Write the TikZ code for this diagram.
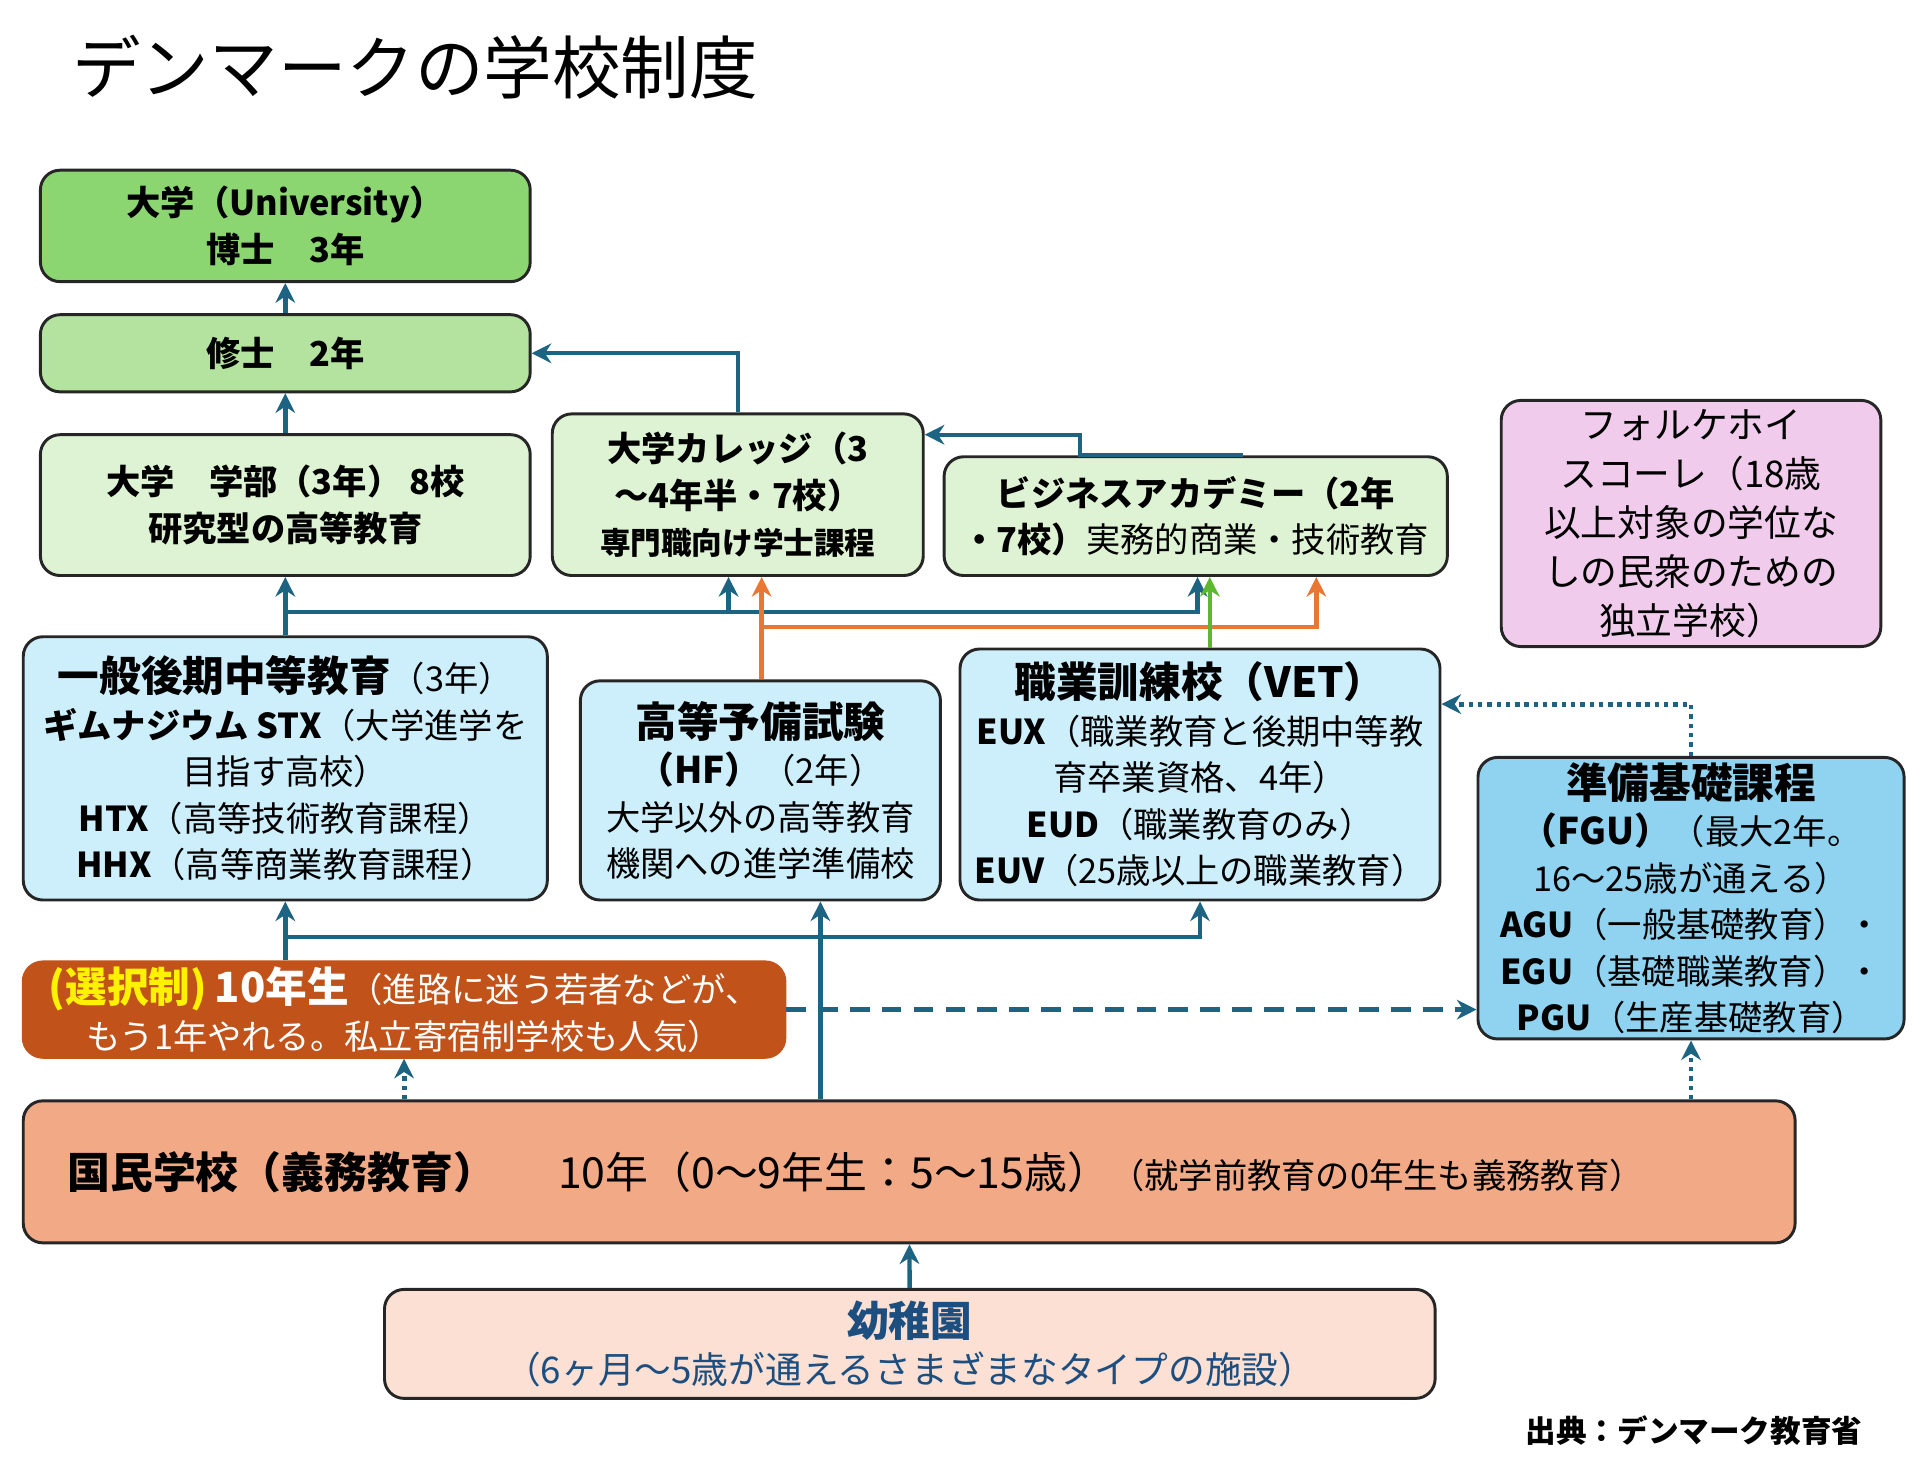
\documentclass[tikz,border=0pt]{standalone}
\usepackage{fontspec}
\setmainfont{Noto Sans CJK JP}
\usetikzlibrary{arrows.meta}
\definecolor{linkblue}{HTML}{1C6482}
\definecolor{linkorange}{HTML}{E87733}
\definecolor{linkgreen}{HTML}{5CB82E}
\definecolor{phdgreen}{HTML}{8CD672}
\definecolor{mastgreen}{HTML}{B4E3A0}
\definecolor{palegreen}{HTML}{DDF3D3}
\definecolor{folkpink}{HTML}{F0CBEC}
\definecolor{paleblue}{HTML}{CDEEFB}
\definecolor{fgublue}{HTML}{8FD3F0}
\definecolor{tenbrown}{HTML}{C0521A}
\definecolor{schoolsalmon}{HTML}{F2A986}
\definecolor{kinderpink}{HTML}{FBE0D3}
\definecolor{kindertext}{HTML}{1C4E80}
\tikzset{
  % box for one kind of school
  school/.style = {
    draw = black!85,
    line width = 1.2pt,
    rounded corners = 8pt,
    align = center,
    inner sep = 2pt,
    font = \fontsize{14}{19}\selectfont
  },
  % connector styles
  arr/.style = {
    draw = linkblue,
    line width = 1.8pt,
    -{Stealth[length=8pt,width=8pt]}
  },
  oarr/.style = {arr, draw = linkorange},
  garr/.style = {arr, draw = linkgreen},
  darr/.style = {arr, dotted, line width = 2pt},
  dasharr/.style = {arr, dashed, dash pattern = on 8pt off 5pt}
}
\begin{document}
\begin{tikzpicture}[x=0.5pt, y=-0.5pt]
  \useasboundingbox (0,0) rectangle (1568,1206);
  \node[anchor=west, font=\fontsize{28}{32}\selectfont] (title) at (52,55) {デンマークの学校制度};

  \node[school, fill=phdgreen, minimum width=200pt, minimum height=45.5pt] (phd) at (233,184.5)
    {\bfseries 大学（University）\\\bfseries 博士　3年};
  \node[school, fill=mastgreen, minimum width=200pt, minimum height=31.5pt] (mast) at (233,288.5)
    {\bfseries 修士　2年};
  \node[school, fill=palegreen, minimum width=200pt, minimum height=57.5pt] (bach) at (233,412.5)
    {\bfseries 大学　学部（3年） 8校\\\bfseries 研究型の高等教育};
  \node[school, fill=palegreen, minimum width=151.5pt, minimum height=66pt] (coll) at (602.5,404)
    {\bfseries 大学カレッジ（3\\\bfseries ～4年半・7校）\\{\fontsize{12.5}{18}\selectfont\bfseries 専門職向け学士課程}};
  \node[school, fill=palegreen, minimum width=205.5pt, minimum height=48.5pt] (biz) at (976.5,421.5)
    {\bfseries ビジネスアカデミー（2年\\\textbf{・7校）}実務的商業・技術教育};
  \node[school, fill=folkpink, minimum width=155pt, minimum height=100.5pt, font=\fontsize{15}{20}\selectfont] (folk) at (1381,427.5)
    {フォルケホイ\\スコーレ（18歳\\以上対象の学位な\\しの民衆のための\\独立学校）};

  \node[school, fill=paleblue, minimum width=214pt, minimum height=107.5pt] (gen) at (233,627.5)
    {{\fontsize{17}{20}\selectfont\bfseries 一般後期中等教育}（3年）\\\textbf{ギムナジウム STX}（大学進学を\\目指す高校）\\\textbf{HTX}（高等技術教育課程）\\\textbf{HHX}（高等商業教育課程）};
  \node[school, fill=paleblue, minimum width=147pt, minimum height=89.5pt] (hf) at (621,645.5)
    {{\fontsize{17}{20}\selectfont\bfseries 高等予備試験}\\{\fontsize{15}{20}\selectfont\bfseries （HF）}（2年）\\大学以外の高等教育\\機関への進学準備校};
  \node[school, fill=paleblue, minimum width=196pt, minimum height=102.5pt] (vet) at (980,632.5)
    {{\fontsize{17}{20}\selectfont\bfseries 職業訓練校（VET）}\\\textbf{EUX}（職業教育と後期中等教\\育卒業資格、4年）\\\textbf{EUD}（職業教育のみ）\\\textbf{EUV}（25歳以上の職業教育）};
  \node[school, fill=fgublue, minimum width=174pt, minimum height=111.5pt] (fgu) at (1381,733.5)
    {{\fontsize{17}{20}\selectfont\bfseries 準備基礎課程}\\{\fontsize{15}{20}\selectfont\bfseries （FGU）}（最大2年。\\16～25歳が通える）\\\textbf{AGU}（一般基礎教育）・\\\textbf{EGU}（基礎職業教育）・\\\textbf{PGU}（生産基礎教育）};

  \node[school, fill=tenbrown, draw=tenbrown, text=white, minimum width=311pt, minimum height=38.5pt] (ten) at (330,824.5)
    {{\fontsize{17}{20}\selectfont\bfseries\color{yellow}(選択制)} {\fontsize{17}{20}\selectfont\bfseries 10年生}（進路に迷う若者などが、\\もう1年やれる。私立寄宿制学校も人気）};
  \node[school, fill=schoolsalmon, minimum width=723.5pt, minimum height=58pt] (folke) at (742.5,957) {};
  \node[anchor=west, font=\fontsize{17.5}{20}\selectfont] (folketext) at (48,957)
    {\textbf{国民学校（義務教育）}\quad\ \ 10年（0～9年生：5～15歳）{\fontsize{14}{16}\selectfont（就学前教育の0年生も義務教育）}};
  \node[school, fill=kinderpink, text=kindertext, minimum width=429pt, minimum height=44.5pt] (kinder) at (743,1097.5)
    {{\fontsize{17}{20}\selectfont\bfseries 幼稚園}\\{\fontsize{15}{20}\selectfont（6ヶ月～5歳が通えるさまざまなタイプの施設）}};
  \node[anchor=east, font=\fontsize{12.5}{16}\selectfont\bfseries] (source) at (1528,1168) {出典：デンマーク教育省};

  % helper coordinates
  \coordinate (x595) at (595,0);
  \coordinate (x622) at (622,0);
  \coordinate (x978) at (978,0);
  \coordinate (x988) at (988,0);
  \coordinate (x1015) at (1015,0);
  \coordinate (x1075) at (1075,0);
  \coordinate (x670) at (670,0);
  \coordinate (bus) at (233,500);
  \coordinate (obus) at (622,512);
  \coordinate (lowbus) at (233,765);
  \coordinate (bizcorner) at (882,355);
  \coordinate (fgubend) at (1381,575);

  \draw[arr] (mast) -- (phd);
  \draw[arr] (bach) -- (mast);
  \draw[arr] (coll.north) |- (mast.east);
  \draw[arr] (biz.north -| x1015) -| (bizcorner) -- (coll.north east |- bizcorner);

  \draw[arr] (gen.north) -- (bach.south);
  \draw[arr] (bus) -| (coll.south -| x595);
  \draw[arr] (bus) -| (biz.south -| x978);
  \draw[oarr] (hf.north -| x622) -- (coll.south -| x622);
  \draw[oarr] (obus) -| (biz.south -| x1075);
  \draw[garr] (vet.north -| x988) -- (biz.south -| x988);

  \draw[arr] (ten.north -| lowbus) -- (gen.south);
  \draw[arr] (lowbus) -| (vet.south);
  \draw[arr] (folke.north -| x670) -- (hf.south -| x670);
  \draw[darr] (folke.north -| ten) -- (ten.south);
  \draw[dasharr] (ten.east) -- (fgu.west |- ten.east);
  \draw[darr] (folke.north -| fgu) -- (fgu.south);
  \draw[darr] (fgu.north) -- (fgubend) -- (vet.east |- fgubend);
  \draw[arr] (kinder) -- (folke);
\end{tikzpicture}
\end{document}
